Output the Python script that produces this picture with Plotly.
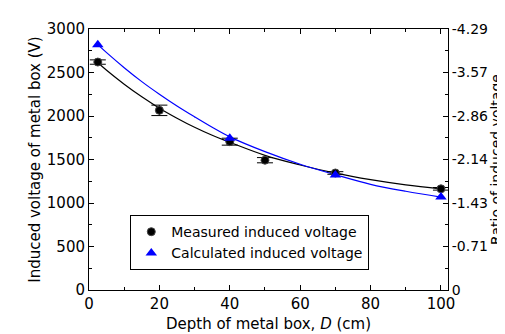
import plotly.graph_objects as go

# Measured induced voltage (points with error bars)
meas_x = [2.5, 20, 40, 50, 70, 100]
meas_y = [2620, 2065, 1705, 1492, 1345, 1163]
meas_err = [25, 60, 40, 30, 15, 15]

# Calculated induced voltage (points)
calc_x = [2.5, 40, 70, 100]
calc_y = [2820, 1745, 1322, 1068]

# Fitted curves
fit_x = [2.5, 5, 10, 15, 20, 25, 30, 35, 40, 50, 60, 70, 80, 90, 100]
fit_meas = [2615, 2525, 2365, 2220, 2090, 1975, 1870, 1778, 1698, 1548, 1437, 1343, 1268, 1208, 1162]
fit_calc = [2820, 2728, 2555, 2395, 2250, 2115, 1990, 1870, 1760, 1590, 1445, 1325, 1215, 1135, 1068]

left_ticks = [0, 500, 1000, 1500, 2000, 2500, 3000]
left_text = ["0", "500", "1000", "1500", "2000", "2500", "3000"]
right_text = ["0", "-0.71", "-1.43", "-2.14", "-2.86", "-3.57", "-4.29"]
x_ticks = [0, 20, 40, 60, 80, 100]

FONT = "DejaVu Sans"

fig = go.Figure()
fig.add_trace(go.Scatter(x=fit_x, y=fit_meas, mode="lines", line=dict(color="black", width=1.2, shape="spline"),
                         showlegend=False, hoverinfo="skip"))
fig.add_trace(go.Scatter(x=fit_x, y=fit_calc, mode="lines", line=dict(color="blue", width=1.2, shape="spline"),
                         showlegend=False, hoverinfo="skip"))
fig.add_trace(go.Scatter(x=meas_x, y=meas_y, mode="markers", name="Measured induced voltage",
                         marker=dict(symbol="circle", size=8, color="black", line=dict(color="#444", width=1)),
                         error_y=dict(type="data", array=meas_err, visible=True, color="black", thickness=1, width=8)))
fig.add_trace(go.Scatter(x=calc_x, y=calc_y, mode="markers", name="Calculated induced voltage",
                         marker=dict(symbol="triangle-up", size=10, color="blue")))
# invisible trace to activate the right axis
fig.add_trace(go.Scatter(x=[0], y=[0], yaxis="y2", mode="markers", marker=dict(opacity=0),
                         showlegend=False, hoverinfo="skip"))

axis_common = dict(showline=True, linecolor="black", linewidth=1, showgrid=False, zeroline=False,
                   ticks="inside", ticklen=5, tickcolor="black", tickwidth=1)

fig.update_layout(
    width=505, height=334,
    margin=dict(l=81, r=65, t=20, b=50),
    paper_bgcolor="white", plot_bgcolor="white",
    font=dict(family=FONT, size=15, color="black"),
    xaxis=dict(range=[0, 102], tickvals=x_ticks, mirror="ticks",
               tickfont=dict(family=FONT, size=15, color="black"),
               minor=dict(ticks="inside", ticklen=3, dtick=10, tick0=0, tickcolor="black"),
               title=dict(text="Depth of metal box, <i>D</i> (cm)", font=dict(family=FONT, size=15), standoff=6),
               **axis_common),
    yaxis=dict(range=[0, 3000], tickvals=left_ticks, ticktext=left_text, mirror=True,
               tickfont=dict(family=FONT, size=15, color="black"),
               minor=dict(ticks="inside", ticklen=3, dtick=250, tick0=0, tickcolor="black"),
               title=dict(text="Induced voltage of metal box (V)", font=dict(family=FONT, size=15), standoff=2),
               **axis_common),
    yaxis2=dict(range=[0, 3000], overlaying="y", side="right", tickvals=left_ticks, ticktext=right_text,
                tickfont=dict(family=FONT, size=14, color="black"),
                minor=dict(ticks="inside", ticklen=3, dtick=250, tick0=0, tickcolor="black"),
                title=dict(text="Ratio of induced voltage", font=dict(family=FONT, size=14), standoff=0),
                ticklabelstandoff=0,
                **axis_common),
    legend=dict(x=0.115, y=0.287, xanchor="left", yanchor="top", bordercolor="black", borderwidth=1,
                bgcolor="white", font=dict(family=FONT, size=14), tracegroupgap=0, itemwidth=30),
)

fig.write_html("out.html")
